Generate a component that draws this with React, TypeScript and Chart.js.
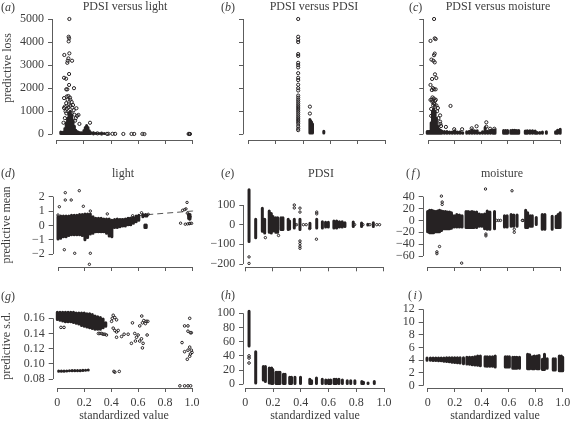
import React, { useEffect, useRef } from "react";
import { Chart, registerables } from "chart.js";

Chart.register(...registerables);

type Pt = [number, number];
type Col = [number, number, number];

// ---- tick values and labels
const xTickValues = [0, 0.2, 0.4, 0.6, 0.8, 1.0];
const xTickLabels = ["0", "0.2", "0.4", "0.6", "0.8", "1.0"];
const lossTicks = [0, 1000, 2000, 3000, 4000, 5000];
const lightMeanTicks = [-2, -1, 0, 1, 2];
const pdsiMeanTicks = [-200, -100, 0, 100];
const moistMeanTicks = [-60, -40, -20, 0, 20, 40];
const lightSdTicks = [0.08, 0.1, 0.12, 0.14, 0.16];
const pdsiSdTicks = [0, 20, 40, 60, 80, 100];
const moistSdTicks = [0, 2, 4, 6, 8, 10, 12];

// ---- panel (a) PDSI versus light
const aPoints: Pt[] = [[.093,5000],[.088,4230],[.091,4160],[.088,4030],[.056,3440],[.093,3510],[.113,3190],[.086,3290],[.081,3190],[.078,3100],[.091,2615],[.054,2450],[.069,2410],[.091,2140],[.127,2000],[.07,1950],[.078,1950],[.054,1570],[.074,1640],[.086,1660],[.098,1590],[.12,1270],[.145,1130],[.054,1140],[.16,840],[.135,590],[.167,450],[.245,500],[.07,910],[.11,910],[.06,700],[.15,800],[.125,1050],[.06,1200],[.07,1350],[.08,1500],[.1,1500],[.11,1400],[.115,1150],[.09,1300],[.075,1100],[.13,850],[.14,700],[.065,1000],[.05,500],[.085,1150],[.1,1250],[.27,40],[.3,40],[.33,30],[.37,20],[.38,20],[.41,20],[.43,20],[.49,15],[.55,15],[.57,15],[.63,15],[.645,10],[.97,15],[.98,15],[.975,15]];
const aCols: Col[] = [[.03,40,100],[.04,40,60],[.05,40,100],[.06,40,250],[.07,40,500],[.08,40,700],[.09,40,950],[.1,40,1000],[.11,40,850],[.12,40,600],[.13,40,350],[.14,40,180],[.15,40,120],[.16,40,90],[.17,40,70],[.18,40,70],[.19,40,70],[.2,40,160],[.21,40,300],[.22,40,380],[.23,40,300],[.24,40,150],[.25,40,80],[.27,40,60],[.29,40,50],[.31,40,40],[.33,30,40],[.35,30,40]];

// ---- panel (b) PDSI versus PDSI
const bPoints: Pt[] = [[.363,5000],[.363,4230],[.363,4100],[.363,4000],[.363,3480],[.363,3400],[.363,3100],[.363,3000],[.363,2900],[.363,2650],[.363,2450],[.363,2350],[.363,2150],[.363,2000],[.363,1900],[.449,1200],[.449,900],[.363,1680],[.363,1590],[.363,1500],[.363,1420],[.363,1340],[.363,1260],[.363,1180],[.363,1100],[.363,1020],[.363,940],[.363,860],[.363,780],[.363,700],[.363,620],[.363,540],[.363,460],[.363,350],[.363,250],[.363,180]];
const bCols: Col[] = [[.449,60,640],[.455,60,590],[.461,60,530],[.468,60,450],[.551,60,130]];

// ---- panel (c) PDSI versus moisture
const cPoints: Pt[] = [[.042,5000],[.047,4160],[.054,4130],[.015,4050],[.047,3500],[.042,3430],[.022,3240],[.037,3190],[.047,3120],[.049,2600],[.059,2440],[.027,2400],[.015,2140],[.034,2000],[.042,1950],[.054,1950],[.025,1920],[.015,1490],[.167,1230],[.071,1140],[.088,820],[.088,550],[.095,360],[.132,320],[.09,450],[.195,220],[.255,220],[.328,260],[.365,350],[.439,520],[.439,330],[.468,240],[.5,240],[.025,1500],[.03,1400],[.04,1550],[.05,1450],[.055,1500],[.06,1250],[.035,1250],[.045,1300],[.065,1000],[.075,700],[.02,1100],[.02,800],[.03,1600],[.04,1350],[.05,1200]];
const cCols: Col[] = [[-.01,50,120],[0,50,120],[.01,50,130],[.02,50,500],[.03,50,1000],[.04,50,1100],[.05,50,1000],[.06,50,700],[.07,50,350],[.08,50,230],[.09,50,180],[.1,50,140],[.12,50,120],[.14,50,120],[.16,50,100],[.18,50,100],[.2,50,150],[.22,50,100],[.24,50,110],[.26,50,70],[.29,50,110],[.31,50,130],[.33,50,200],[.35,50,150],[.37,50,150],[.39,50,60],[.41,50,110],[.43,50,300],[.45,50,130],[.47,50,180],[.49,50,180],[.505,50,200],[.57,50,170],[.585,50,170],[.6,50,170],[.625,50,170],[.64,50,180],[.655,50,180],[.67,50,170],[.685,50,170],[.735,50,140],[.75,50,150],[.77,50,150],[.79,50,150],[.81,50,140],[.825,50,80],[.845,50,80],[.865,50,100],[.895,50,110],[.965,50,110],[.98,50,180],[1,50,220]];

// ---- panel (d) light, predictive mean
const dPoints: Pt[] = [[.054,2.28],[.158,2.42],[.01,1.3],[.054,1.77],[.098,1.77],[.188,1.33],[.047,-1.7],[.124,-1.95],[.24,-1.95],[.233,-2.72],[0,.72],[.24,1.0],[.366,.8],[.554,.67],[.62,.88],[.67,.77],[.958,1.6],[.94,1.1],[.95,1.15],[.925,1.05],[.96,.85],[.97,.7],[.98,.6],[.975,.45],[.91,.15],[.945,.08],[.962,.1],[.98,.14],[.992,.14],[.975,.12]];
const dCols: Col[] = [[0,-.95,.6],[.02,-.9,.65],[.04,-.8,.65],[.06,-.8,.65],[.08,-.7,.65],[.1,-.65,.7],[.12,-.65,.7],[.14,-.65,.7],[.16,-.65,.75],[.18,-.7,.75],[.2,-1,.8],[.22,-.85,.8],[.24,-.6,.8],[.26,-.55,.6],[.28,-.45,.5],[.3,-.45,.5],[.32,-.45,.5],[.34,-.45,.45],[.36,-.55,.45],[.38,-.75,.45],[.4,-.8,.35],[.42,-.15,.4],[.44,-.15,.45],[.46,-.1,.4],[.48,-.05,.4],[.5,-.05,.45],[.52,.05,.5],[.54,.05,.5],[.56,.15,.55],[.58,.25,.65],[.6,.35,.7],[.63,.6,.75],[.65,.65,.75],[.66,.65,.7],[.645,-.15,.02],[.655,-.15,.02],[.97,.5,.8],[.98,.45,.75]];
const dTrendX = [0, .3, .5, .63, .8, 1, 1.03];
const dTrendY = [-.02, .2, .5, .72, .85, 1.0, 1.05];

// ---- panel (e) PDSI, predictive mean
const ePoints: Pt[] = [[.027,-164],[.027,-197],[.145,-66],[.24,-55],[.354,100],[.354,85],[.395,84],[.395,64],[.395,-83],[.395,-96],[.395,-110],[.395,-120],[.516,64],[.516,55],[.514,-74],[.36,0],[.37,0],[.42,0],[.44,0],[.465,-20],[.79,0],[.85,0],[.9,0],[.95,0],[.97,0]];
const eCols: Col[] = [[.027,-85,178],[.075,-67,27],[.123,-34,83],[.14,-42,27],[.173,-39,69],[.188,-42,57],[.2,-32,42],[.22,-39,35],[.234,-39,35],[.258,-25,35],[.272,-25,35],[.31,-25,27],[.32,-22,19],[.354,-17,27],[.395,-25,27],[.467,-17,7],[.516,-17,27],[.557,-17,15],[.58,-12,12],[.6,-12,12],[.64,-17,19],[.66,-17,19],[.68,-12,15],[.7,-12,15],[.72,-9,10],[.78,-9,14],[.84,-9,9],[.885,-2,2],[.925,-9,10]];

// ---- panel (f) moisture, predictive mean
const fPoints: Pt[] = [[.104,41],[.11,31],[.11,27],[.07,-53],[.07,-56],[.09,-44],[.257,-72],[.437,53],[.637,50],[.44,-23],[.44,-26],[.654,-15],[.654,-20],[.52,0],[.535,0],[.55,0],[.715,0],[.72,0]];
const fCols: Col[] = [[0,-19,15],[.015,-21,17],[.03,-21,17],[.045,-21,16],[.06,-19,15],[.075,-19,16],[.09,-19,17],[.105,-17,16],[.12,-14,15],[.135,-14,15],[.15,-14,14],[.165,-14,14],[.18,-13,13],[.2,-11,8],[.22,-11,10],[.24,-11,9],[.26,-11,8],[.29,-12,15],[.305,-12,15],[.32,-12,14],[.335,-12,15],[.35,-12,14],[.37,-12,14],[.39,-10,11],[.41,-10,10],[.43,-14,11],[.45,-15,16],[.47,-15,14],[.505,-14,15],[.58,-11,8],[.6,-11,8],[.63,-10,10],[.65,-10,9],[.675,-10,9],[.74,-12,17],[.755,-12,13],[.775,-10,8],[.79,-10,8],[.82,-7,5],[.865,-15,10],[.885,-15,10],[.94,-15,7],[.97,-12,7],[.985,-12,10],[1,-12,13]];

// ---- panel (g) light, predictive s.d.
const gPoints: Pt[] = [[.027,.148],[.05,.148],[.305,.14],[.316,.14],[.33,.14],[.34,.139],[.353,.139],[.365,.138],[.415,.164],[.408,.16],[.44,.158],[.427,.161],[.403,.156],[.415,.147],[.427,.144],[.44,.142],[.44,.135],[.452,.144],[.496,.139],[.526,.139],[.477,.136],[.558,.154],[.55,.127],[.58,.13],[.588,.135],[.575,.14],[.6,.138],[.612,.13],[.625,.133],[.637,.127],[.632,.121],[.667,.138],[.612,.15],[.632,.154],[.627,.163],[.642,.157],[.654,.153],[.66,.156],[.672,.156],[.926,.128],[.945,.15],[.97,.15],[.983,.16],[.97,.143],[.988,.141],[.995,.141],[.983,.122],[.97,.118],[.988,.113],[1.0,.115],[.995,.118],[.945,.116],[.965,.106],[.983,.11],[.42,.09],[.427,.089],[.46,.09],[.91,.071],[.945,.071],[.97,.071],[.99,.071]];
const gCols: Col[] = [[0,.1585,.168],[.02,.1575,.168],[.04,.1565,.168],[.06,.1555,.168],[.08,.1555,.168],[.1,.1555,.168],[.12,.1545,.168],[.14,.1535,.167],[.16,.1525,.167],[.18,.1505,.167],[.2,.1495,.167],[.22,.1485,.166],[.24,.1475,.166],[.26,.1465,.165],[.28,.1455,.163],[.3,.1455,.162],[.32,.1455,.161],[.34,.1475,.159],[.36,.1495,.154]];
const gBand: Col[] = [[.01,.0903,.0904],[.03,.0903,.0904],[.05,.0903,.0904],[.07,.0905,.0906],[.09,.0908,.0909],[.11,.091,.0911],[.13,.091,.0911],[.15,.091,.0911],[.17,.091,.0911],[.19,.0913,.0914],[.21,.0915,.0916],[.23,.0918,.0919]];

// ---- panel (h) PDSI, predictive s.d.
const hPoints: Pt[] = [[.027,40],[.027,37],[.027,30]];
const hCols: Col[] = [[.027,54,103],[.075,2,46],[.13,6,25],[.145,4,25],[.173,2,23],[.19,1,23],[.198,1,21],[.222,1,17],[.236,1,17],[.25,1,17],[.275,1,14],[.287,1,14],[.32,1,10],[.333,1,10],[.358,1,10],[.398,1,10],[.465,1,7],[.478,1,5],[.513,1,9],[.555,1,7],[.58,1,6],[.6,1,6],[.615,1,6],[.64,1,7],[.655,1,7],[.675,1,7],[.7,1,6],[.735,1,5],[.76,1,5],[.79,1,5],[.84,1,4],[.852,1,3],[.885,1,2],[.93,1,4]];

// ---- panel (i) moisture, predictive s.d.
const iCols: Col[] = [[-.005,4.0,4.35],[.02,4.0,4.35],[.04,3.95,4.35],[.06,3.95,4.35],[.08,3.9,4.35],[.1,3.9,4.35],[.12,3.85,4.35],[.14,3.8,4.4],[.16,3.75,4.4],[.18,3.7,4.4],[.2,3.65,4.4],[.22,3.6,4.4],[.24,3.55,4.4],[.265,3.45,4.4],[.29,3.4,4.45],[.31,3.35,4.45],[.33,3.3,4.45],[.35,3.25,4.55],[.37,3.2,4.65],[.39,3.15,4.65],[.425,3.1,4.55],[.44,3.05,4.55],[.46,3.05,4.55],[.48,3.05,4.55],[.5,2.95,4.65],[.575,2.95,4.55],[.59,2.95,4.55],[.605,2.95,4.55],[.63,2.75,4.45],[.645,2.75,4.45],[.66,2.75,4.45],[.68,2.75,4.45],[.74,2.65,4.95],[.755,2.65,4.85],[.775,2.65,4.55],[.79,2.65,4.65],[.81,2.65,4.65],[.825,2.65,4.75],[.85,2.55,4.15],[.865,2.55,4.95],[.885,2.75,4.25],[.93,2.45,4.25],[.945,2.45,4.25],[.975,2.35,4.65],[.99,2.35,4.65],[1,2.35,4.45]];

// ---- layout constants (pixels in the 571x422 page)
type Frame = { axisX: number; x0: number; x1: number; axisY: number; vA: number; pA: number; vB: number; pB: number; top: number };
const INK = "#262223";
const AXIS = "#5c5c5c";
const TEXT = "#3d3d3d";
const SERIF = '"Liberation Serif", serif';

type PanelText = { letter: string; lx: number; ly: number; title?: string; tx?: number; ty?: number; yTitle?: string; yx?: number; yy?: number; xTitle?: string; xx?: number; xy?: number };
type Panel = { frame: Frame; ticks: number[]; labels: string[]; points: Pt[]; cols: Col[]; r: number; xLabels: boolean; text: PanelText; trend?: boolean };

const num = (a: number[], d = 0) => a.map((v) => v.toFixed(d).replace("-", "−"));

const panels: Panel[] = [
  { frame: { axisX: 52, x0: 56.7, x1: 192.7, axisY: 140, vA: 0, pA: 134.3, vB: 5000, pB: 19, top: 10 }, ticks: lossTicks, labels: num(lossTicks), points: aPoints, cols: aCols, r: 1.6, xLabels: false,
    text: { letter: "a", lx: 1, ly: 8, title: "PDSI versus light", tx: 125, ty: 7, yTitle: "predictive loss", yx: 8, yy: 68 } },
  { frame: { axisX: 243, x0: 248.7, x1: 385, axisY: 140, vA: 0, pA: 134.3, vB: 5000, pB: 19, top: 10 }, ticks: lossTicks, labels: lossTicks.map(() => ""), points: bPoints, cols: bCols, r: 1.6, xLabels: false,
    text: { letter: "b", lx: 221, ly: 8, title: "PDSI versus PDSI", tx: 314, ty: 7 } },
  { frame: { axisX: 423.3, x0: 428.7, x1: 564.7, axisY: 140, vA: 0, pA: 134.3, vB: 5000, pB: 19, top: 10 }, ticks: lossTicks, labels: lossTicks.map(() => ""), points: cPoints, cols: cCols, r: 1.6, xLabels: false,
    text: { letter: "c", lx: 409, ly: 8, title: "PDSI versus moisture", tx: 498, ty: 7 } },
  { frame: { axisX: 52.7, x0: 58, x1: 192.7, axisY: 267, vA: -2, pA: 254, vB: 2, pB: 196.7, top: 178 }, ticks: lightMeanTicks, labels: num(lightMeanTicks), points: dPoints, cols: dCols, r: 1.2, xLabels: false, trend: true,
    text: { letter: "d", lx: 1, ly: 174, title: "light", tx: 123, ty: 174, yTitle: "predictive mean", yx: 7, yy: 225 } },
  { frame: { axisX: 243.3, x0: 245.3, x1: 383.7, axisY: 267.3, vA: -200, pA: 264, vB: 100, pB: 205, top: 178 }, ticks: pdsiMeanTicks, labels: num(pdsiMeanTicks), points: ePoints, cols: eCols, r: 1.2, xLabels: false,
    text: { letter: "e", lx: 221, ly: 174, title: "PDSI", tx: 321, ty: 174 } },
  { frame: { axisX: 422.7, x0: 427.7, x1: 562.7, axisY: 267, vA: -60, pA: 256, vB: 40, pB: 196.7, top: 178 }, ticks: moistMeanTicks, labels: num(moistMeanTicks), points: fPoints, cols: fCols, r: 1.2, xLabels: false,
    text: { letter: "f", lx: 406, ly: 174, title: "moisture", tx: 502, ty: 174 } },
  { frame: { axisX: 52.7, x0: 57.3, x1: 192, axisY: 388, vA: 0.08, pA: 379, vB: 0.16, pB: 318.3, top: 300 }, ticks: lightSdTicks, labels: num(lightSdTicks, 2), points: gPoints, cols: [...gCols, ...gBand], r: 1.3, xLabels: true,
    text: { letter: "g", lx: 1, ly: 297, yTitle: "predictive s.d.", yx: 7, yy: 346, xTitle: "standardized value", xx: 124, xy: 416 } },
  { frame: { axisX: 243, x0: 245.3, x1: 384, axisY: 388, vA: 0, pA: 384.3, vB: 100, pB: 313.3, top: 300 }, ticks: pdsiSdTicks, labels: num(pdsiSdTicks), points: hPoints, cols: hCols, r: 1.3, xLabels: true,
    text: { letter: "h", lx: 221, ly: 296, xTitle: "standardized value", xx: 315, xy: 416 } },
  { frame: { axisX: 422.7, x0: 427.7, x1: 562.7, axisY: 388, vA: 0, pA: 385.7, vB: 12, pB: 309.3, top: 300 }, ticks: moistSdTicks, labels: num(moistSdTicks), points: [], cols: iCols, r: 1.3, xLabels: true,
    text: { letter: "i", lx: 408, ly: 296, xTitle: "standardized value", xx: 495, xy: 416 } },
];

const colsToLine = (cols: Col[]) =>
  cols.flatMap(([x, lo, hi]) => [{ x, y: lo }, { x, y: hi }, { x, y: null as unknown as number }]);

const rangeAxes = {
  id: "rangeAxes",
  afterDraw(chart: any) {
    const { ctx, chartArea, scales } = chart;
    const xs = scales.x, ys = scales.y;
    ctx.save();
    ctx.strokeStyle = AXIS;
    ctx.lineWidth = 1;
    ctx.beginPath();
    ctx.moveTo(xs.getPixelForValue(xs.ticks[0].value), Math.round(chartArea.bottom) + 0.5);
    ctx.lineTo(xs.getPixelForValue(xs.ticks[xs.ticks.length - 1].value), Math.round(chartArea.bottom) + 0.5);
    ctx.moveTo(Math.round(chartArea.left) + 0.5, ys.getPixelForValue(ys.ticks[0].value));
    ctx.lineTo(Math.round(chartArea.left) + 0.5, ys.getPixelForValue(ys.ticks[ys.ticks.length - 1].value));
    ctx.stroke();
    ctx.restore();
  },
};

const panelText = {
  id: "panelText",
  afterDraw(chart: any, _args: any, opts: PanelText) {
    const ctx = chart.ctx as CanvasRenderingContext2D;
    ctx.save();
    ctx.fillStyle = TEXT;
    ctx.textBaseline = "middle";
    ctx.font = `12px ${SERIF}`;
    ctx.textAlign = "center";
    if (opts.title) ctx.fillText(opts.title, opts.tx!, opts.ty!);
    if (opts.xTitle) ctx.fillText(opts.xTitle, opts.xx!, opts.xy!);
    if (opts.yTitle) {
      ctx.save();
      ctx.translate(opts.yx!, opts.yy!);
      ctx.rotate(-Math.PI / 2);
      ctx.fillText(opts.yTitle, 0, 0);
      ctx.restore();
    }
    ctx.textAlign = "left";
    let x = opts.lx;
    const gap = opts.letter === "f" || opts.letter === "i" ? 1.5 : 0;
    ctx.fillText("(", x, opts.ly);
    x += ctx.measureText("(").width + gap;
    ctx.font = `italic 12px ${SERIF}`;
    ctx.fillText(opts.letter, x, opts.ly);
    x += ctx.measureText(opts.letter).width + gap;
    ctx.font = `12px ${SERIF}`;
    ctx.fillText(")", x, opts.ly);
    ctx.restore();
  },
};

function makeChart(canvas: HTMLCanvasElement, p: Panel) {
  const f = p.frame;
  const right = f.x1 + 6;
  const xPerPx = 1 / (f.x1 - f.x0);
  const yPerPx = (f.vB - f.vA) / (f.pB - f.pA);
  const xScaleHeight = 26;
  const datasets: any[] = [
    {
      type: "line",
      data: colsToLine(p.cols),
      borderColor: INK,
      borderWidth: 3,
      borderCapStyle: "round",
      pointRadius: 0,
      spanGaps: false,
      clip: false,
    },
    {
      type: "scatter",
      data: p.points.map(([x, y]) => ({ x, y })),
      borderColor: INK,
      backgroundColor: "rgba(255,255,255,0)",
      borderWidth: 1,
      pointRadius: p.r,
      clip: false,
    },
  ];
  if (p.trend) {
    datasets.push({
      type: "line",
      data: dTrendX.map((x, i) => ({ x, y: dTrendY[i] })),
      borderColor: "#555555",
      borderWidth: 1,
      borderDash: [6, 4],
      pointRadius: 0,
      clip: false,
    });
  }
  return new Chart(canvas, {
    type: "scatter",
    data: { datasets },
    plugins: [rangeAxes, panelText],
    options: {
      animation: false,
      responsive: false,
      events: [],
      layout: {
        padding: { left: 0, top: f.top, right: 571 - right, bottom: 422 - f.axisY - xScaleHeight },
      },
      plugins: { legend: { display: false }, tooltip: { enabled: false }, title: { display: false }, panelText: p.text } as any,
      scales: {
        x: {
          type: "linear",
          min: (f.axisX - f.x0) * xPerPx,
          max: (right - f.x0) * xPerPx,
          border: { display: false },
          grid: { drawOnChartArea: false, drawTicks: true, tickLength: 4, color: AXIS },
          ticks: {
            display: p.xLabels,
            autoSkip: false,
            maxRotation: 0,
            minRotation: 0,
            padding: 4,
            color: TEXT,
            font: { family: SERIF, size: 12 },
            callback: (v: any) => xTickLabels[xTickValues.findIndex((t) => Math.abs(t - v) < 1e-6)] ?? "",
          },
          afterBuildTicks: (s: any) => { s.ticks = xTickValues.map((value) => ({ value })); },
          afterFit: (s: any) => { s.height = xScaleHeight; s.paddingLeft = 0; s.paddingRight = 0; },
        },
        y: {
          type: "linear",
          min: f.vA + (f.axisY - f.pA) * yPerPx,
          max: f.vA + (f.top - f.pA) * yPerPx,
          border: { display: false },
          grid: { drawOnChartArea: false, drawTicks: true, tickLength: 4, color: AXIS },
          ticks: {
            autoSkip: false,
            padding: 4,
            color: TEXT,
            font: { family: SERIF, size: 12 },
            callback: (v: any) => {
              const i = p.ticks.findIndex((t) => Math.abs(t - v) < 1e-6);
              return i >= 0 ? p.labels[i] : "";
            },
          },
          afterBuildTicks: (s: any) => { s.ticks = p.ticks.map((value) => ({ value })); },
          afterFit: (s: any) => { s.width = f.axisX; s.paddingTop = 0; s.paddingBottom = 0; },
        },
      },
    } as any,
  });
}

function PanelChart({ panel }: { panel: Panel }) {
  const ref = useRef<HTMLCanvasElement>(null);
  useEffect(() => {
    const chart = makeChart(ref.current!, panel);
    return () => chart.destroy();
  }, [panel]);
  return <canvas ref={ref} width={571} height={422} style={{ position: "absolute", left: 0, top: 0, width: 571, height: 422 }} />;
}

export default function App() {
  return (
    <div style={{ position: "fixed", left: 0, top: 0, width: 571, height: 422, background: "#fff", overflow: "hidden" }}>
      {panels.map((p) => (
        <PanelChart key={p.text.letter} panel={p} />
      ))}
    </div>
  );
}
